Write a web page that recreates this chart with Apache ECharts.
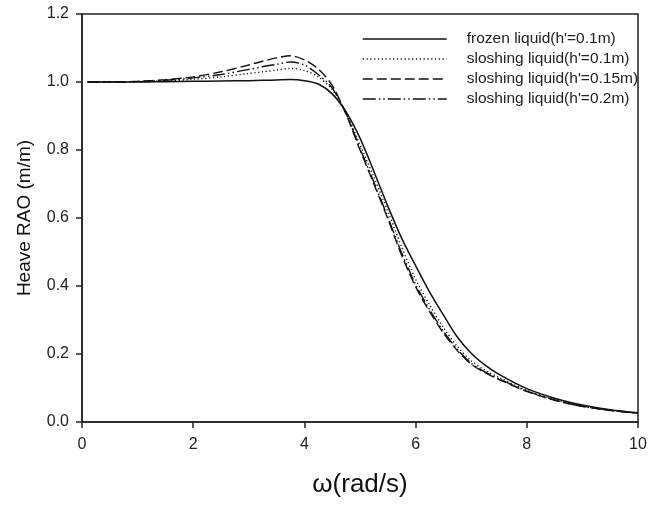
<!DOCTYPE html>
<html>
<head>
<meta charset="utf-8">
<script src="https://cdn.jsdelivr.net/npm/echarts@6/dist/echarts.min.js"></script>
<style>html,body{margin:0;padding:0;background:#fff}#c{width:661px;height:506px}</style>
</head>
<body>
<div id="c"></div>
<script>
var omega = [0.1, 0.5, 1.0, 1.5, 2.0, 2.5, 3.0, 3.25, 3.5, 3.75, 4.0, 4.25, 4.5, 4.75, 5.0, 5.25, 5.5, 5.75, 6.0, 6.25, 6.5, 6.75, 7.0, 7.25, 7.5, 8.0, 8.5, 9.0, 9.5, 10.0];
var frozen01 = [1.0, 1.0, 1.0, 1.001, 1.002, 1.003, 1.004, 1.005, 1.006, 1.007, 1.004, 0.994, 0.965, 0.912, 0.835, 0.737, 0.635, 0.54, 0.46, 0.383, 0.315, 0.25, 0.202, 0.167, 0.14, 0.098, 0.07, 0.05, 0.036, 0.027];
var slosh01 = [1.0, 1.0, 1.001, 1.003, 1.008, 1.015, 1.025, 1.03, 1.035, 1.04, 1.034, 1.015, 0.978, 0.91, 0.815, 0.72, 0.62, 0.515, 0.42, 0.345, 0.278, 0.222, 0.18, 0.152, 0.131, 0.093, 0.066, 0.047, 0.035, 0.026];
var slosh015 = [1.0, 1.0, 1.002, 1.007, 1.015, 1.03, 1.05, 1.061, 1.071, 1.077, 1.065, 1.038, 0.99, 0.905, 0.80, 0.70, 0.598, 0.49, 0.398, 0.325, 0.262, 0.21, 0.17, 0.145, 0.125, 0.09, 0.064, 0.046, 0.034, 0.026];
var slosh02 = [1.0, 1.0, 1.001, 1.005, 1.012, 1.022, 1.037, 1.045, 1.052, 1.059, 1.05, 1.022, 0.982, 0.907, 0.805, 0.705, 0.603, 0.497, 0.405, 0.331, 0.267, 0.214, 0.173, 0.147, 0.127, 0.091, 0.065, 0.046, 0.034, 0.026];
var names = ["frozen liquid(h'=0.1m)", "sloshing liquid(h'=0.1m)", "sloshing liquid(h'=0.15m)", "sloshing liquid(h'=0.2m)"];
var xTicks = [0, 2, 4, 6, 8, 10];
var yTicks = [0.0, 0.2, 0.4, 0.6, 0.8, 1.0, 1.2];

function pairs(ys){ return omega.map(function(x,i){ return [x, ys[i]]; }); }
var dashes = ['solid', [1.2, 2.6], [10, 4], [13, 3, 1.5, 3, 1.5, 3]];
var widths = [1.5, 1.4, 1.4, 1.4];
var all = [frozen01, slosh01, slosh015, slosh02];
var FONT = 'Liberation Sans, Arial, sans-serif';

var chart = echarts.init(document.getElementById('c'), null, {renderer:'canvas'});
chart.setOption({
  animation: false,
  backgroundColor: '#fff',
  grid: {left: 82, right: 23, top: 14, bottom: 84, show: true, borderColor: '#222', borderWidth: 1.5, backgroundColor: 'transparent'},
  legend: {
    orient: 'vertical', left: 362, top: 31, padding: 0, itemWidth: 84, itemHeight: 14, itemGap: 4,
    textStyle: {fontFamily: FONT, fontSize: 15.5, color: '#222', padding: [0,0,0,15]},
    data: names.map(function(n,i){ return {name: n, itemStyle: {opacity: 0}, lineStyle:{type: dashes[i], color:'#111', width: widths[i]}}; })
  },
  xAxis: {
    type: 'value', min: 0, max: 10, interval: 2,
    name: 'ω(rad/s)', nameLocation: 'middle', nameGap: 50,
    nameTextStyle: {fontFamily: FONT, fontSize: 26, color: '#111'},
    axisLine: {show: true, lineStyle: {color: '#222', width: 1.5}},
    axisTick: {show: true, inside: false, length: 6, lineStyle: {color: '#222', width: 1.5}},
    axisLabel: {fontFamily: FONT, fontSize: 16, color: '#222', margin: 15},
    splitLine: {show: false}
  },
  yAxis: {
    type: 'value', min: 0, max: 1.2, interval: 0.2,
    name: 'Heave RAO (m/m)', nameLocation: 'middle', nameGap: 48,
    nameTextStyle: {fontFamily: FONT, fontSize: 19, color: '#111'},
    axisLine: {show: true, lineStyle: {color: '#222', width: 1.5}},
    axisTick: {show: true, inside: false, length: 6, lineStyle: {color: '#222', width: 1.5}},
    axisLabel: {fontFamily: FONT, fontSize: 16, color: '#222', margin: 13, formatter: function(v){ return v.toFixed(1); }},
    splitLine: {show: false}
  },
  series: all.map(function(ys,i){
    return {name: names[i], type: 'line', smooth: 0.3, symbol: 'none', data: pairs(ys),
      lineStyle: {color: '#111', width: widths[i], type: dashes[i]}, itemStyle: {color: '#111'}};
  })
});
</script>
</body>
</html>
